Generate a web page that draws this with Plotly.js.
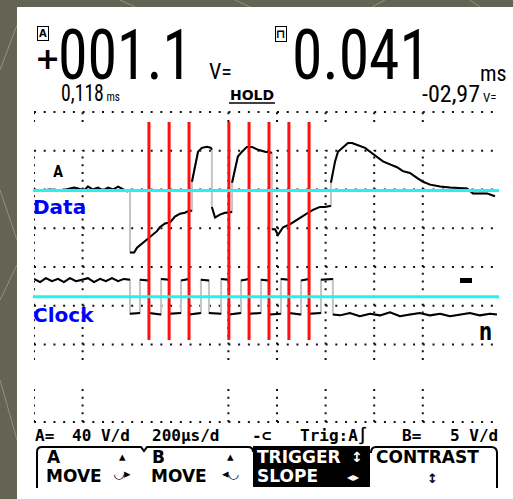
<!DOCTYPE html>
<html><head><meta charset="utf-8">
<script src="https://cdn.plot.ly/plotly-3.0.1.min.js"></script>
<style>html,body{margin:0;padding:0;background:#646454;overflow:hidden}#chart{width:513px;height:499px}</style>
</head><body><div id="chart"></div>
<script>
// ---- data (time in µs, 200 µs/div) ----
// Channel A "Data" (40 V/div)
const dataT = [0,33,66,99,132,165,181,206,222,243,263,284,305,325,346,366,383,395,
  395,412,424,444,465,486,506,518,539,560,580,601,621,638,
  650,650,667,675,691,712,728,
  732,732,745,765,786,802,
  815,815,827,839,856,876,897,922,951,971,
  979,979,992,1004,1025,1053,1082,1103,1128,1148,1177,1197,1218,
  1222,1222,1239,1251,1272,1292,1309,1333,1362,1383,1411,1436,1465,1494,1518,1547,1576,1601,1630,1671,1712,1753,1782,1806,1835,1864,1897];
const dataV = [0,0,1,0,1,3,2,0,4,1,3,0,3,1,4,1,-1,1,
  -64,-64,-59,-55,-51,-46,-42,-38,-34,-33,-27,-24,-23,-21,
  -21,9,30,40,44,45,44,
  42,-17,-28,-25,-23,-23,
  -22,8,22,35,40,45,45,42,40,39,
  39,-40,-40,-46,-38,-35,-30,-27,-23,-20,-17,-17,-16,
  -16,8,30,40,45,49,49,47,44,40,35,30,27,24,20,18,13,9,6,4,3,2,2,-3,-3,-3,-6];
// Channel B "Clock" (5 V/div)
const clockT = [0,25,49,74,99,123,148,173,198,222,247,272,296,321,346,370,395,
  395,436,436,473,473,523,523,556,556,605,605,638,638,687,687,720,720,770,770,802,802,852,852,885,885,934,934,967,967,1016,1016,1049,1049,1099,1099,1132,1132,1181,1181,1230,1230,
  1259,1300,1341,1383,1424,1465,1506,1547,1588,1630,1671,1712,1753,1794,1835,1876,1905];
const clockV = [4.4,4.0,4.5,4.1,4.4,4.0,4.5,4.1,4.3,4.5,4.0,4.4,4.1,4.5,4.1,4.4,4.3,
  -0.1,0.0,4.3,4.2,0.0,-0.2,4.4,4.3,-0.1,0.0,4.2,4.4,-0.2,0.0,4.3,4.2,0.0,-0.1,4.4,4.3,-0.2,0.0,4.2,4.4,-0.1,0.0,4.3,4.2,-0.2,-0.1,4.4,4.3,0.0,-0.2,4.2,4.4,-0.1,0.0,4.3,4.4,-0.2,
  -0.3,0.0,-0.4,-0.1,-0.3,0.1,-0.4,-0.2,0.0,-0.3,-0.1,-0.4,-0.2,0.0,-0.3,-0.1,-0.2];
// sample cursors (µs) and visible grid columns (µs)
const sampleT = [473,556,638,802,885,967,1049,1132];
const gridColT = [0,200,800,1000,1200,1400,1600];
const thresholdA = 0;    // V
const thresholdB = 2.1;  // V
// readout texts
const readA = "001.1", readB = "0.041", subA = "0,118", subB = "-02,97";
const statusTexts = ["A=", "40 V/d", "200µs/d", "-⊂", "Trig:A∫", "B=", "5 V/d"];

// ---- layout geometry ----
const W=513,H=499,L=34,R=15,T=112,B=77;
const pw=W-L-R, ph=H-T-B;
const px=x=>(x-L)/pw, py=y=>(H-B-y)/ph;
const pp=(x,y)=>px(x).toFixed(5)+','+py(y).toFixed(5);

const NARROW='"Roboto Condensed","Noto Sans Condensed","Liberation Sans Narrow","DejaVu Sans Condensed","Arial Narrow","Liberation Sans",sans-serif';
const SANS='"DejaVu Sans",sans-serif';
const MONO='"DejaVu Sans Mono",monospace';

function splitJumps(t,v){const xs=[],ys=[];for(let i=0;i<t.length;i++){if(i>0&&t[i]===t[i-1]){xs.push(null);ys.push(null);}xs.push(t[i]);ys.push(v[i]);}return [xs,ys];}
const [dbx,dby]=splitJumps(dataT,dataV);
const [cbx,cby]=splitJumps(clockT,clockV);

const traces=[
 {x:dataT,y:dataV,mode:'lines',line:{color:'#c4c4c4',width:2},yaxis:'y',hoverinfo:'skip'},
 {x:clockT,y:clockV,mode:'lines',line:{color:'#c4c4c4',width:2},yaxis:'y2',hoverinfo:'skip'},
 {x:dbx,y:dby,mode:'lines',line:{color:'#000',width:2},yaxis:'y',hoverinfo:'skip'},
 {x:cbx,y:cby,mode:'lines',line:{color:'#000',width:2},yaxis:'y2',hoverinfo:'skip'}
];

const shapes=[];
// background streaks
[[0,70,17,25],[0,190,17,240],[0,300,17,265],[0,380,17,440],[120,0,135,7],[235,0,250,7],[385,0,372,7],[470,0,480,7]].forEach(s=>{
 shapes.push({type:'line',xref:'paper',yref:'paper',x0:px(s[0]),y0:py(s[1]),x1:px(s[2]),y1:py(s[3]),line:{color:'rgba(200,200,180,0.45)',width:1},layer:'below'});
});
// white screen
shapes.push({type:'rect',xref:'paper',yref:'paper',x0:px(17),x1:px(513),y0:py(499),y1:py(7),fillcolor:'#ffffff',line:{width:0},layer:'below'});
// grid rows
[0,2,3,4,5,6,7,8].forEach(k=>{
 shapes.push({type:'line',xref:'paper',yref:'paper',x0:0,x1:1,y0:k/8,y1:k/8,line:{color:'#111',width:2,dash:'2px,7.72px'},layer:'below'});
});
// grid columns
gridColT.forEach(t=>{
 [[112,122],[150,360],[388,422]].forEach(seg=>{
  shapes.push({type:'line',xref:'x',yref:'paper',x0:t,x1:t,y0:py(seg[1]),y1:py(seg[0]),line:{color:'#111',width:2,dash:'2px,5.75px'},layer:'below'});
 });
});
// red sample cursors
sampleT.forEach(t=>{
 shapes.push({type:'line',xref:'x',yref:'paper',x0:t,x1:t,y0:py(340),y1:py(122),line:{color:'#ff1010',width:3},layer:'above'});
});
// cyan threshold lines
shapes.push({type:'line',xref:'paper',yref:'y',x0:px(33),x1:px(499),y0:thresholdA,y1:thresholdA,line:{color:'#22f2f2',width:3},layer:'above'});
shapes.push({type:'line',xref:'paper',yref:'y2',x0:px(33),x1:px(499),y0:thresholdB,y1:thresholdB,line:{color:'#22f2f2',width:3},layer:'above'});
// B marker dash
shapes.push({type:'rect',xref:'paper',yref:'paper',x0:px(460),x1:px(472),y0:py(283),y1:py(278),fillcolor:'#000',line:{width:0}});
// HOLD underline
shapes.push({type:'line',xref:'paper',yref:'paper',x0:px(229),x1:px(275),y0:py(103),y1:py(103),line:{color:'#000',width:1.5}});
// softkey frames
shapes.push({type:'path',xref:'paper',yref:'paper',path:'M'+pp(37,488)+' L'+pp(37,452)+' Q'+pp(37,447)+' '+pp(42,447)+' L'+pp(141,447)+' L'+pp(144,451)+' L'+pp(147,447)+' L'+pp(248,447)+' Q'+pp(253,447)+' '+pp(253,452),line:{color:'#000',width:2}});
shapes.push({type:'rect',xref:'paper',yref:'paper',x0:px(253),x1:px(370),y0:py(487),y1:py(446),fillcolor:'#000',line:{width:0}});
shapes.push({type:'path',xref:'paper',yref:'paper',path:'M'+pp(371,453)+' Q'+pp(371,447)+' '+pp(376,447)+' L'+pp(491,447)+' Q'+pp(497,447)+' '+pp(497,453)+' L'+pp(497,488),line:{color:'#000',width:2}});

const fits=[];
const ann=[];
function tx(s,x,y,size,o){o=o||{};const a={text:s,xref:'paper',yref:'paper',x:px(x),y:py(y),xanchor:o.xa||'left',yanchor:'middle',showarrow:false,borderpad:o.bp||0,
 bordercolor:o.bc||'rgba(0,0,0,0)',borderwidth:o.bw||0,
 font:{family:o.f||NARROW,size:size,color:o.c||'#000',weight:o.w||'normal'}};
 if(o.fit) fits.push({i:ann.length,w:o.fit});
 ann.push(a);}

tx('A',43,34,10,{xa:'center',f:SANS,w:'bold',bc:'#000',bw:1,bp:1});
tx('+',35,58,30,{f:SANS,w:'bold'});
tx(readA,58,55,70,{fit:134});
tx('V=',209,72,22,{fit:24});
tx('⊓',281,34,12,{xa:'center',f:SANS,w:'bold',bc:'#000',bw:1,bp:0});
tx(readB,292,55,70,{fit:138});
tx('ms',480,73,22,{fit:28});
tx(subA+'<span style="font-size:13px"> ms</span>',61,94,23,{fit:59});
tx('HOLD',230,95,14,{f:SANS,w:'bold'});
tx(subB+'<span style="font-size:13px"> V=</span>',422,94,24,{fit:78});
tx('A',53,171,17,{w:'bold'});
tx('Data',33,207,20,{f:SANS,w:'bold',c:'#0000ff'});
tx('Clock',33,315,20,{f:SANS,w:'bold',c:'#0000ff'});
tx('n',479,332,24,{f:SANS,w:'bold',fit:13});
const statusX=[35,72,152,252,300,402,450];
statusTexts.forEach((s,i)=>tx(s,statusX[i],435,16,{f:MONO,w:'bold'}));
tx('A',47,457,17,{f:SANS,w:'bold'});
tx('MOVE',46,476,17,{f:SANS,w:'bold'});
tx('▴<br>◡▸',122,465,13,{xa:'center',f:SANS,w:'bold'});
tx('B',152,457,17,{f:SANS,w:'bold'});
tx('MOVE',151,476,17,{f:SANS,w:'bold'});
tx('▴<br>◂◡',230,465,13,{xa:'center',f:SANS,w:'bold'});
tx('TRIGGER',257,457,17,{f:SANS,w:'bold',c:'#fff'});
tx('↕',357,457,14,{xa:'center',f:SANS,w:'bold',c:'#fff'});
tx('SLOPE',257,476,17,{f:SANS,w:'bold',c:'#fff'});
tx('◂▸',353,477,12,{xa:'center',f:SANS,w:'bold',c:'#fff'});
tx('CONTRAST',376,457,17,{f:SANS,w:'bold'});
tx('↕',432,478,13,{xa:'center',f:SANS,w:'bold'});

const layout={width:W,height:H,autosize:false,margin:{l:L,r:R,t:T,b:B,pad:0},
 paper_bgcolor:'#646454',plot_bgcolor:'rgba(0,0,0,0)',showlegend:false,hovermode:false,
 xaxis:{range:[0,1909.5],visible:false,fixedrange:true},
 yaxis:{range:[-239,81],visible:false,fixedrange:true},
 yaxis2:{range:[-14.06,25.94],overlaying:'y',visible:false,fixedrange:true},
 shapes:shapes,annotations:ann};
Plotly.newPlot('chart',traces,layout,{staticPlot:true,displayModeBar:false}).then(gd=>{
 fits.forEach(f=>{
  const g=gd.querySelector('.annotation[data-index="'+f.i+'"]');
  if(!g) return;
  const t=g.querySelector('text.annotation-text');
  if(!t) return;
  const bb=t.getBBox();
  if(bb.width>f.w){const s=f.w/bb.width;t.setAttribute('transform','translate('+(bb.x*(1-s))+',0) scale('+s+',1)');}
 });
});
</script></body></html>
